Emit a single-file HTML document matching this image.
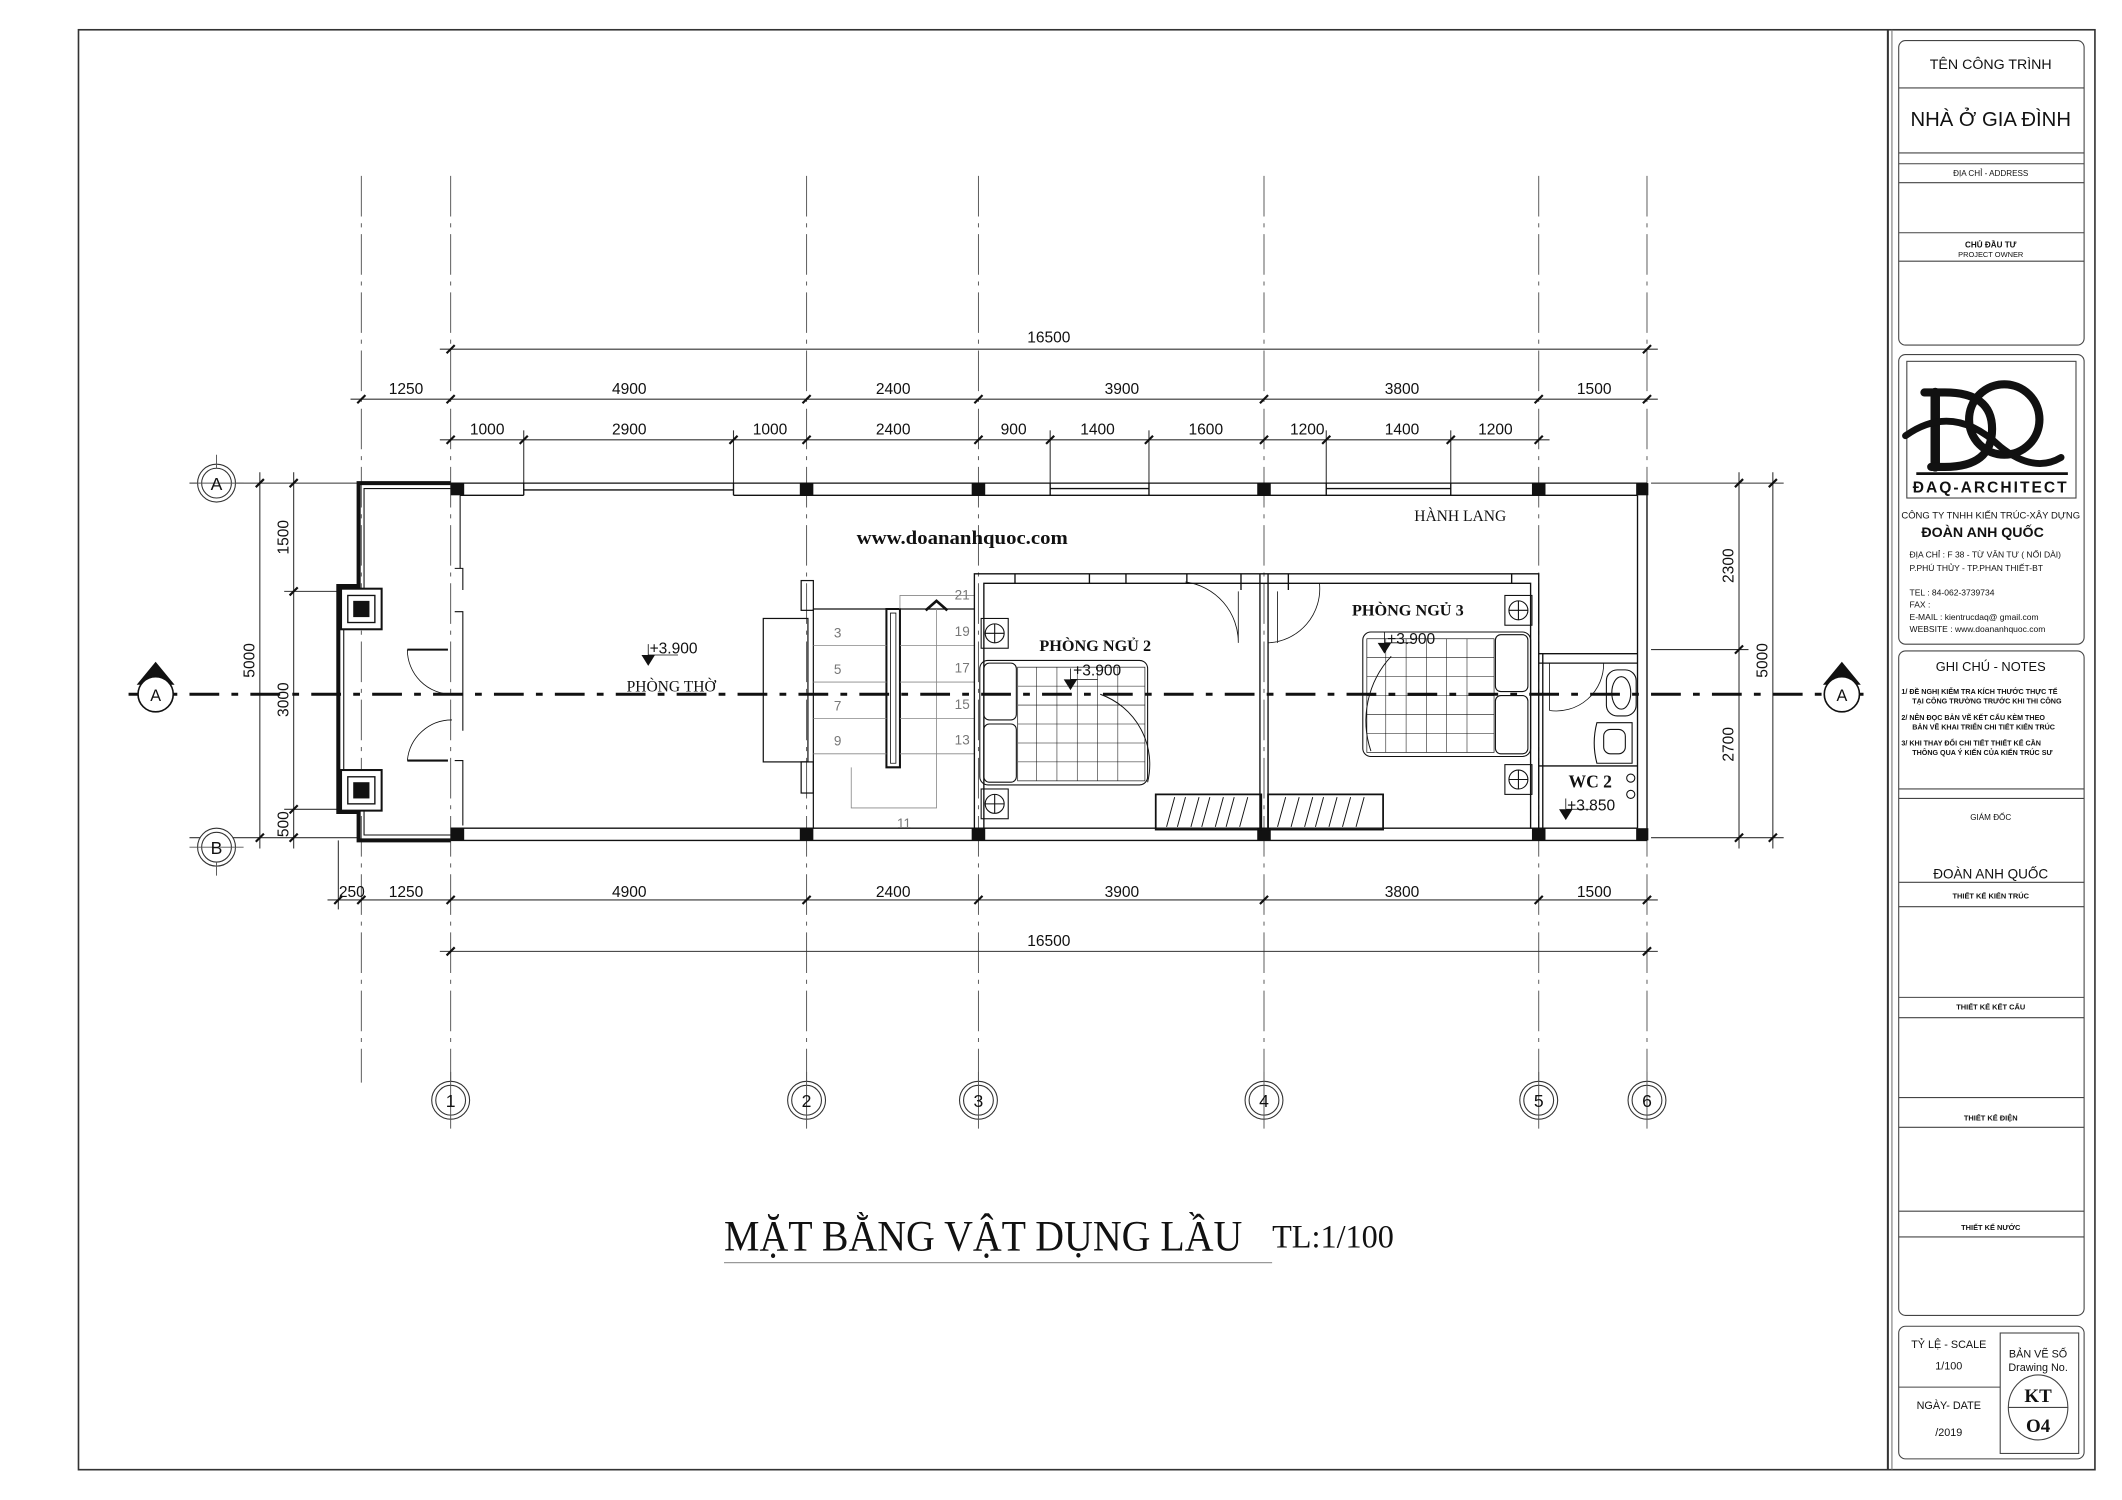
<!DOCTYPE html>
<html><head><meta charset="utf-8"><style>
html,body{margin:0;padding:0;background:#fff}
svg{display:block}
text{font-family:"Liberation Sans",sans-serif;fill:#111}
.s{font-family:"Liberation Serif",serif}
</style></head><body>
<svg width="2122" height="1500" viewBox="0 0 1568 1108.4" preserveAspectRatio="none" xmlns="http://www.w3.org/2000/svg">
<rect width="1568" height="1109" fill="#fff"/>
<!-- frame -->
<rect x="58" y="22" width="1490" height="1064" fill="none" stroke="#333" stroke-width="1.2"/>
<line x1="1395" y1="22" x2="1395" y2="1086" stroke="#333" stroke-width="1.5"/>
<line x1="1398" y1="22" x2="1398" y2="1086" stroke="#777" stroke-width="0.8"/>

<!-- grid lines -->
<g stroke="#555" stroke-width="0.7" stroke-dasharray="30 5 3 5" fill="none">
<line x1="267" y1="130" x2="267" y2="800"/><line x1="333" y1="130" x2="333" y2="800"/>
<line x1="596" y1="130" x2="596" y2="800"/><line x1="723" y1="130" x2="723" y2="800"/>
<line x1="934" y1="130" x2="934" y2="800"/><line x1="1137" y1="130" x2="1137" y2="800"/>
<line x1="1217" y1="130" x2="1217" y2="800"/>
</g>

<!-- dimension lines -->
<g stroke="#333" stroke-width="0.8" fill="none">
<line x1="325" y1="258" x2="1225" y2="258"/>
<line x1="259" y1="295" x2="1225" y2="295"/>
<line x1="325" y1="325" x2="1145" y2="325"/>
<line x1="242" y1="665" x2="1225" y2="665"/>
<line x1="325" y1="703" x2="1225" y2="703"/>
<line x1="217" y1="349" x2="217" y2="627"/>
<line x1="192" y1="349" x2="192" y2="627"/>
<line x1="1285" y1="349" x2="1285" y2="627"/>
<line x1="1310" y1="349" x2="1310" y2="627"/>
<!-- ext lines -->
<line x1="387" y1="318" x2="387" y2="357"/><line x1="542" y1="318" x2="542" y2="357"/>
<line x1="776" y1="318" x2="776" y2="357"/><line x1="849" y1="318" x2="849" y2="357"/>
<line x1="980" y1="318" x2="980" y2="357"/><line x1="1072" y1="318" x2="1072" y2="357"/>
<line x1="250" y1="621" x2="250" y2="672"/>
<line x1="140" y1="357" x2="265" y2="357"/><line x1="140" y1="619" x2="265" y2="619"/>
<line x1="210" y1="437" x2="252" y2="437"/><line x1="210" y1="598" x2="252" y2="598"/>
<line x1="1220" y1="357" x2="1318" y2="357"/><line x1="1220" y1="619" x2="1318" y2="619"/>
<line x1="1220" y1="480" x2="1292" y2="480"/>
</g>
<g stroke="#111" stroke-width="1.6">
<!-- ticks -->
<path d="M330 261l6-6M1214 261l6-6
M264 298l6-6M330 298l6-6M593 298l6-6M720 298l6-6M931 298l6-6M1134 298l6-6M1214 298l6-6
M330 328l6-6M384 328l6-6M539 328l6-6M593 328l6-6M720 328l6-6M773 328l6-6M846 328l6-6M931 328l6-6M977 328l6-6M1069 328l6-6M1134 328l6-6
M247 668l6-6M264 668l6-6M330 668l6-6M593 668l6-6M720 668l6-6M931 668l6-6M1134 668l6-6M1214 668l6-6
M330 706l6-6M1214 706l6-6
M214 360l6-6M214 440l6-6M214 601l6-6M214 622l6-6
M189 360l6-6M189 622l6-6
M1282 360l6-6M1282 483l6-6M1282 622l6-6
M1307 360l6-6M1307 622l6-6"/>
</g>
<g font-size="11.5" text-anchor="middle">
<text x="775" y="253">16500</text>
<text x="300" y="291">1250</text><text x="465" y="291">4900</text><text x="660" y="291">2400</text><text x="829" y="291">3900</text><text x="1036" y="291">3800</text><text x="1178" y="291">1500</text>
<text x="360" y="321">1000</text><text x="465" y="321">2900</text><text x="569" y="321">1000</text><text x="660" y="321">2400</text><text x="749" y="321">900</text><text x="811" y="321">1400</text><text x="891" y="321">1600</text><text x="966" y="321">1200</text><text x="1036" y="321">1400</text><text x="1105" y="321">1200</text>
<text x="260" y="663">250</text><text x="300" y="663">1250</text><text x="465" y="663">4900</text><text x="660" y="663">2400</text><text x="829" y="663">3900</text><text x="1036" y="663">3800</text><text x="1178" y="663">1500</text>
<text x="775" y="699">16500</text>
<text transform="translate(213,397) rotate(-90)">1500</text>
<text transform="translate(213,517) rotate(-90)">3000</text>
<text transform="translate(213,609) rotate(-90)">500</text>
<text transform="translate(188,488) rotate(-90)">5000</text>
<text transform="translate(1281,418) rotate(-90)">2300</text>
<text transform="translate(1281,550) rotate(-90)">2700</text>
<text transform="translate(1306,488) rotate(-90)">5000</text>
</g>

<!-- grid bubbles -->
<g fill="#fff" stroke="#333" stroke-width="0.8">
<circle cx="333" cy="813" r="14"/><circle cx="333" cy="813" r="11"/>
<circle cx="596" cy="813" r="14"/><circle cx="596" cy="813" r="11"/>
<circle cx="723" cy="813" r="14"/><circle cx="723" cy="813" r="11"/>
<circle cx="934" cy="813" r="14"/><circle cx="934" cy="813" r="11"/>
<circle cx="1137" cy="813" r="14"/><circle cx="1137" cy="813" r="11"/>
<circle cx="1217" cy="813" r="14"/><circle cx="1217" cy="813" r="11"/>
<circle cx="160" cy="357" r="14"/><circle cx="160" cy="357" r="11"/>
<circle cx="160" cy="626" r="14"/><circle cx="160" cy="626" r="11"/>
</g>
<g stroke="#555" stroke-width="0.7">
<path d="M333 792v42M596 792v42M723 792v42M934 792v42M1137 792v42M1217 792v42M140 357h40M140 626h40M160 336v10M160 637v10"/>
</g>
<g font-size="13" text-anchor="middle">
<text x="333" y="818">1</text><text x="596" y="818">2</text><text x="723" y="818">3</text><text x="934" y="818">4</text><text x="1137" y="818">5</text><text x="1217" y="818">6</text>
<text x="160" y="362">A</text><text x="160" y="631">B</text>
</g>

<!-- walls -->
<g stroke="#111" stroke-width="1" fill="none">
<path d="M333 357H1217M340 366H387M542 366H1210M333 612H1210M333 621H1217"/>
<path d="M387 357v9M542 357v9M776 357v9M849 357v9M1072 357v9M980 357v9"/>
<path d="M387 362H542M776 361H849M980 361H1072"/>
<path d="M1210 366V612M1217 357V621"/>
</g>
<!-- balcony -->
<g fill="none" stroke="#111">
<path d="M333 357H265V433H250V600H265V621H333" stroke-width="3"/>
<path d="M333 361H269V437H254V596H269V617H333" stroke-width="0.8"/>
<path d="M340 366V420M336 420H342V436M336 452H342V540M336 562H342V610" stroke-width="0.8"/>
<path d="M301 480h30M301 562h30" stroke-width="1.5"/>
<path d="M301 480a33 33 0 0 0 33 33M301 562a33 33 0 0 1 33 -30" stroke-width="0.6"/>
</g>
<g>
<rect x="252" y="435" width="30" height="30" fill="#fff" stroke="#111" stroke-width="1.5"/>
<rect x="257" y="440" width="20" height="20" fill="none" stroke="#111"/>
<rect x="261" y="444" width="12" height="12" fill="#111"/>
<rect x="252" y="569" width="30" height="30" fill="#fff" stroke="#111" stroke-width="1.5"/>
<rect x="257" y="574" width="20" height="20" fill="none" stroke="#111"/>
<rect x="261" y="578" width="12" height="12" fill="#111"/>
</g>
<!-- columns -->
<g fill="#111">
<rect x="333" y="357" width="10" height="9"/><rect x="591" y="357" width="10" height="9"/><rect x="718" y="357" width="10" height="9"/><rect x="929" y="357" width="10" height="9"/><rect x="1132" y="357" width="10" height="9"/><rect x="1209" y="357" width="9" height="9"/>
<rect x="333" y="612" width="10" height="9"/><rect x="591" y="612" width="10" height="9"/><rect x="718" y="612" width="10" height="9"/><rect x="929" y="612" width="10" height="9"/><rect x="1132" y="612" width="10" height="9"/><rect x="1209" y="612" width="9" height="9"/>
</g>

<!-- stairs -->
<g fill="none" stroke="#111" stroke-width="0.9">
<rect x="564" y="457" width="33" height="106"/>
<rect x="592" y="429" width="9" height="22"/><rect x="592" y="563" width="9" height="23"/>
<path d="M601 450H720M601 450V612"/>
<path d="M655 450h10v117h-10z" stroke-width="1.5"/>
<path d="M658 453h4v111h-4z" stroke-width="0.6"/>
<g stroke="#888" stroke-width="0.6">
<path d="M601 477H655M601 504H655M601 531H655M601 557H655M665 477H720M665 504H720M665 531H720M665 557H720M665 450V440H720M629 567V597H692V450"/>
</g>
<path d="M684 451l8-7 8 7" stroke-width="2"/>
</g>
<g font-size="10" fill="#777" text-anchor="middle" style="fill:#777">
<text x="619" y="471" style="fill:#777">3</text><text x="619" y="498" style="fill:#777">5</text><text x="619" y="525" style="fill:#777">7</text><text x="619" y="551" style="fill:#777">9</text>
<text x="711" y="443" style="fill:#777">21</text><text x="711" y="470" style="fill:#777">19</text><text x="711" y="497" style="fill:#777">17</text><text x="711" y="524" style="fill:#777">15</text><text x="711" y="550" style="fill:#777">13</text><text x="668" y="612" style="fill:#777">11</text>
</g>

<!-- bedroom walls -->
<g fill="none" stroke="#111" stroke-width="1">
<path d="M720 612V424H1137V612M727 612V431H735M727 431H1131V612"/>
<path d="M750 424v7M805 424v7M832 424v7M877 424v7M1117 424v7"/>
<path d="M931 424V612M937 424V612M917 424V436M952 424V436"/>
<path d="M1137 483H1210M1137 490H1210M1140 483V612"/>
<path d="M1137 566H1210"/>
</g>
<!-- doors -->
<g fill="none" stroke="#111" stroke-width="0.6">
<path d="M876 430a45 45 0 0 1 39 45M915 475V437M937 475a40 40 0 0 0 38 -44M944 475V437"/>
<path d="M1185 490a35 35 0 0 1 -40 35M1145 525V490"/>
<path d="M763 441h4v11h-4z" stroke-width="0"/>
</g>
<!-- wardrobe -->
<g fill="none" stroke="#111" stroke-width="1">
<rect x="854" y="587" width="78" height="26" stroke-width="1.3"/>
<rect x="937" y="587" width="85" height="26" stroke-width="1.3"/>
<path d="M862 611l6-22M870 611l6-22M880 611l6-22M888 611l6-22M898 611l6-22M906 611l6-22M916 611l6-22M944 611l6-22M954 611l6-22M964 611l6-22M972 611l6-22M982 611l6-22M992 611l6-22M1002 611l6-22" stroke-width="0.7"/>
</g>
<!-- bed 2 -->
<g fill="none" stroke="#111" stroke-width="0.8">
<rect x="724" y="488" width="124" height="92" rx="6"/>
<rect x="727" y="490" width="24" height="42" rx="4"/><rect x="727" y="535" width="24" height="43" rx="4"/>
<rect x="752" y="493" width="94" height="84" stroke-width="0.5"/>
<path d="M752 507h94M752 521h94M752 535h94M752 549h94M752 563h94M766 493v84M781 493v84M796 493v84M811 493v84M826 493v84" stroke-width="0.4"/>
<rect x="725" y="457" width="20" height="22"/><circle cx="735" cy="468" r="7"/><path d="M728 468h14M735 461v14"/>
<rect x="725" y="583" width="20" height="22"/><circle cx="735" cy="594" r="7"/><path d="M728 594h14M735 587v14"/>
<path d="M813 513a55 55 0 0 1 35 65" stroke-width="0.7"/>
</g>
<!-- bed 3 -->
<g fill="none" stroke="#111" stroke-width="0.8">
<rect x="1007" y="467" width="124" height="92" rx="6"/>
<rect x="1105" y="469" width="24" height="42" rx="4"/><rect x="1105" y="514" width="24" height="43" rx="4"/>
<rect x="1010" y="472" width="94" height="84" stroke-width="0.5"/>
<path d="M1010 486h94M1010 500h94M1010 514h94M1010 528h94M1010 542h94M1024 472v84M1039 472v84M1054 472v84M1069 472v84M1084 472v84" stroke-width="0.4"/>
<rect x="1112" y="440" width="20" height="22"/><circle cx="1122" cy="451" r="7"/><path d="M1115 451h14M1122 444v14"/>
<rect x="1112" y="565" width="20" height="22"/><circle cx="1122" cy="576" r="7"/><path d="M1115 576h14M1122 569v14"/>
<path d="M1028 485a70 70 0 0 0 -15 70" stroke-width="0.7"/>
</g>
<!-- wc fixtures -->
<g fill="none" stroke="#111" stroke-width="0.8">
<rect x="1187" y="495" width="22" height="34" rx="8"/><ellipse cx="1198" cy="512" rx="7" ry="12"/>
<path d="M1180 534h26v30h-26q-4-15 0-30z"/><rect x="1185" y="539" width="16" height="18" rx="5"/>
<circle cx="1205" cy="575" r="3"/><circle cx="1205" cy="587" r="3"/>
</g>
<!-- section line -->
<line x1="95" y1="513" x2="1380" y2="513" stroke="#111" stroke-width="2.2" stroke-dasharray="22 9 5 9"/>
<g>
<path d="M101 506L115 489L129 506Z" fill="#111"/>
<circle cx="115" cy="513" r="13" fill="#fff" stroke="#111" stroke-width="1.2"/>
<path d="M1347 506L1361 489L1375 506Z" fill="#111"/>
<circle cx="1361" cy="513" r="13" fill="#fff" stroke="#111" stroke-width="1.2"/>
<text x="115" y="518" font-size="12" text-anchor="middle">A</text>
<text x="1361" y="518" font-size="12" text-anchor="middle">A</text>
</g>

<!-- level marks -->
<g fill="#111">
<path d="M474 484h10l-5 8z"/><path d="M786 502h10l-5 8z"/><path d="M1018 475h10l-5 8z"/><path d="M1152 598h10l-5 8z"/>
</g>
<g stroke="#111" stroke-width="0.6"><path d="M479 476v8M479 484h22M791 494v8M791 502h20M1023 467v8M1023 475h20M1157 590v8M1157 598h20"/></g>
<g font-size="11.5">
<text x="480" y="483">+3.900</text><text x="793" y="499">+3.900</text><text x="1025" y="476">+3.900</text><text x="1158" y="599">+3.850</text>
</g>
<g class="s" font-size="12" font-weight="bold">
<text class="s" x="463" y="511" font-weight="normal" font-size="11.5">PHÒNG THỜ</text>
<text class="s" x="768" y="481">PHÒNG  NGỦ 2</text>
<text class="s" x="999" y="455">PHÒNG  NGỦ 3</text>
<text class="s" x="1045" y="385" font-weight="normal" font-size="11.5">HÀNH LANG</text>
<text class="s" x="1159" y="582" font-size="13">WC 2</text>
<text class="s" x="633" y="402" font-size="14" textLength="156" lengthAdjust="spacingAndGlyphs">www.doananhquoc.com</text>
</g>

<!-- title -->
<text class="s" x="535" y="924" font-size="32" textLength="383" lengthAdjust="spacingAndGlyphs">MẶT BẰNG VẬT DỤNG LẦU</text>
<text class="s" x="940" y="922" font-size="24" textLength="90" lengthAdjust="spacingAndGlyphs">TL:1/100</text>
<line x1="535" y1="933" x2="940" y2="933" stroke="#999" stroke-width="1"/>

<!-- title block -->
<g fill="none" stroke="#444" stroke-width="0.8">
<rect x="1403" y="30" width="137" height="225" rx="5"/>
<path d="M1403 65h137M1403 113h137M1403 121h137M1403 135h137M1403 172h137M1403 193h137"/>
<rect x="1403" y="262" width="137" height="214" rx="5"/>
<rect x="1409" y="267" width="125" height="101"/>
<rect x="1403" y="481" width="137" height="491" rx="5"/>
<path d="M1403 583h137M1403 590h137M1403 652h137M1403 670h137M1403 737h137M1403 752h137M1403 811h137M1403 833h137M1403 895h137M1403 914h137"/>
<rect x="1403" y="980" width="137" height="98" rx="5"/>
<rect x="1478" y="985" width="58" height="89"/>
<path d="M1403 1025h75"/>
<ellipse cx="1506" cy="1040" rx="22" ry="24"/><path d="M1484 1040h44"/>
</g>
<line x1="1416" y1="350" x2="1528" y2="350" stroke="#111" stroke-width="2"/>
<!-- logo -->
<g fill="none" stroke="#111" stroke-linecap="round">
<path d="M1430 290V345" stroke-width="7"/>
<path d="M1422 290h15q35 0 35 27q0 28-35 28h-10" stroke-width="6"/>
<circle cx="1481" cy="310" r="26" stroke-width="6"/>
<path d="M1408 322q35-25 70 8q25 20 45 8" stroke-width="5"/>
</g>
<g text-anchor="middle">
<text x="1471" y="51" font-size="10.5">TÊN CÔNG TRÌNH</text>
<text x="1471" y="93" font-size="15">NHÀ Ở GIA ĐÌNH</text>
<text x="1471" y="130" font-size="6">ĐỊA CHỈ - ADDRESS</text>
<text x="1471" y="183" font-size="6" font-weight="bold">CHỦ ĐẦU TƯ</text>
<text x="1471" y="190" font-size="5.5">PROJECT OWNER</text>
<text x="1471" y="364" font-size="11.5" font-weight="bold" letter-spacing="1.5">ĐAQ-ARCHITECT</text>
<text x="1471" y="383" font-size="7">CÔNG TY TNHH KIẾN TRÚC-XÂY DỰNG</text>
<text x="1465" y="397" font-size="10.5" font-weight="bold">ĐOÀN ANH QUỐC</text>
<text x="1471" y="496" font-size="9.5">GHI CHÚ - NOTES</text>
<text x="1471" y="606" font-size="6">GIÁM ĐỐC</text>
<text x="1471" y="649" font-size="10">ĐOÀN ANH QUỐC</text>
<text x="1471" y="664" font-size="5.5" font-weight="bold">THIẾT KẾ KIẾN TRÚC</text>
<text x="1471" y="746" font-size="5.5" font-weight="bold">THIẾT KẾ KẾT CẤU</text>
<text x="1471" y="828" font-size="5.5" font-weight="bold">THIẾT KẾ ĐIỆN</text>
<text x="1471" y="909" font-size="5.5" font-weight="bold">THIẾT KẾ NƯỚC</text>
<text x="1440" y="996" font-size="8">TỶ LỆ - SCALE</text>
<text x="1440" y="1012" font-size="8">1/100</text>
<text x="1440" y="1041" font-size="8">NGÀY- DATE</text>
<text x="1440" y="1061" font-size="8">/2019</text>
<text x="1506" y="1003" font-size="8">BẢN VẼ SỐ</text>
<text x="1506" y="1013" font-size="8">Drawing No.</text>
<text class="s" x="1506" y="1036" font-size="14" font-weight="bold">KT</text>
<text class="s" x="1506" y="1058" font-size="14" font-weight="bold">O4</text>
</g>
<g font-size="6.3">
<text x="1411" y="412">ĐỊA CHỈ   : F 38 - TỪ VĂN TƯ ( NỐI DÀI)</text>
<text x="1411" y="422">P.PHÚ THỦY - TP.PHAN THIẾT-BT</text>
<text x="1411" y="440">TEL        : 84-062-3739734</text>
<text x="1411" y="449">FAX        :</text>
<text x="1411" y="458">E-MAIL   :  kientrucdaq@ gmail.com</text>
<text x="1411" y="467">WEBSITE  :  www.doananhquoc.com</text>
<g font-weight="bold" font-size="5.3">
<text x="1405" y="513">1/ ĐỀ NGHỊ KIỂM TRA KÍCH THƯỚC THỰC TẾ</text>
<text x="1413" y="520">TẠI CÔNG TRƯỜNG TRƯỚC KHI THI CÔNG</text>
<text x="1405" y="532">2/ NÊN ĐỌC BẢN VẼ KẾT CẤU KÈM THEO</text>
<text x="1413" y="539">BẢN VẼ KHAI TRIỂN CHI TIẾT KIẾN TRÚC</text>
<text x="1405" y="551">3/ KHI THAY ĐỔI CHI TIẾT THIẾT KẾ CẦN</text>
<text x="1413" y="558">THÔNG QUA Ý KIẾN CỦA KIẾN TRÚC SƯ</text>
</g>
</g>
</svg>
</body></html>
